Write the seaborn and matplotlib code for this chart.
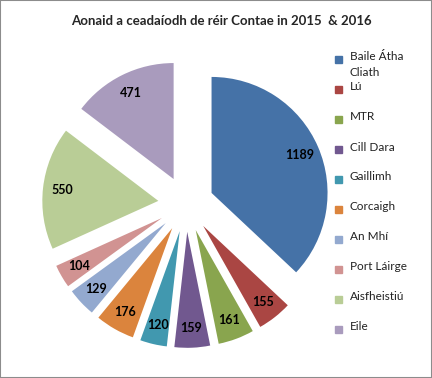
import matplotlib
matplotlib.use('Agg')
import matplotlib.pyplot as plt
import seaborn as sns
from matplotlib.patches import Rectangle

# data
counties = ['Baile Átha Cliath', 'Lú', 'MTR', 'Cill Dara', 'Gaillimh',
            'Corcaigh', 'An Mhí', 'Port Láirge', 'Aisfheistiú', 'Eile']
units = [1189, 155, 161, 159, 120, 176, 129, 104, 550, 471]
colours = ['#4572A7', '#AA4643', '#89A54E', '#71588F', '#4198AF',
           '#DB843D', '#93A9CF', '#D19392', '#B9CD96', '#A99BBD']

sns.set_theme(style='white')
plt.rcParams['font.family'] = ['Lato', 'DejaVu Sans']

W, H = 432, 378
fig = plt.figure(figsize=(W / 100, H / 100), dpi=100)
ax = fig.add_axes([0, 0, 1, 1])

total = sum(units)
wedges, _, autotexts = ax.pie(
    units, colors=colours, startangle=90, counterclock=False,
    explode=[0.24] * len(units), pctdistance=0.83,
    autopct=lambda p: '{:.0f}'.format(p * total / 100),
    wedgeprops=dict(linewidth=0),
    textprops=dict(fontsize=9, fontweight='bold', color='black'))

# centre of the pie at (186, 204) px from top-left, radius 116 px
r, cx, cy = 116, 186, 204
ax.set_xlim(-cx / r, (W - cx) / r)
ax.set_ylim(-(H - cy) / r, cy / r)
ax.set_aspect('equal', adjustable='datalim')
ax.axis('off')

fig.text(221 / W, 1 - 21 / H, 'Aonaid a ceadaíodh de réir Contae in 2015  & 2016',
         ha='center', va='center', fontsize=9.5, fontweight='bold')

# legend, drawn by hand to match the spacing
for i, (name, col) in enumerate(zip(counties, colours)):
    y = 59 + 30 * i
    fig.patches.append(Rectangle((335 / W, 1 - (y + 3.5) / H), 7 / W, 7 / H,
                                 transform=fig.transFigure, color=col))
    label = 'Baile Átha\nCliath' if name == 'Baile Átha Cliath' else name
    fig.text(350 / W, 1 - (y - 7.5) / H, label, ha='left', va='top',
             fontsize=8.5, linespacing=1.45, color='#222222')

fig.patches.append(Rectangle((0, 0), 1, 1, transform=fig.transFigure,
                             fill=False, edgecolor='#8c8c8c', linewidth=1.5))

fig.savefig('out.png', dpi=100)
